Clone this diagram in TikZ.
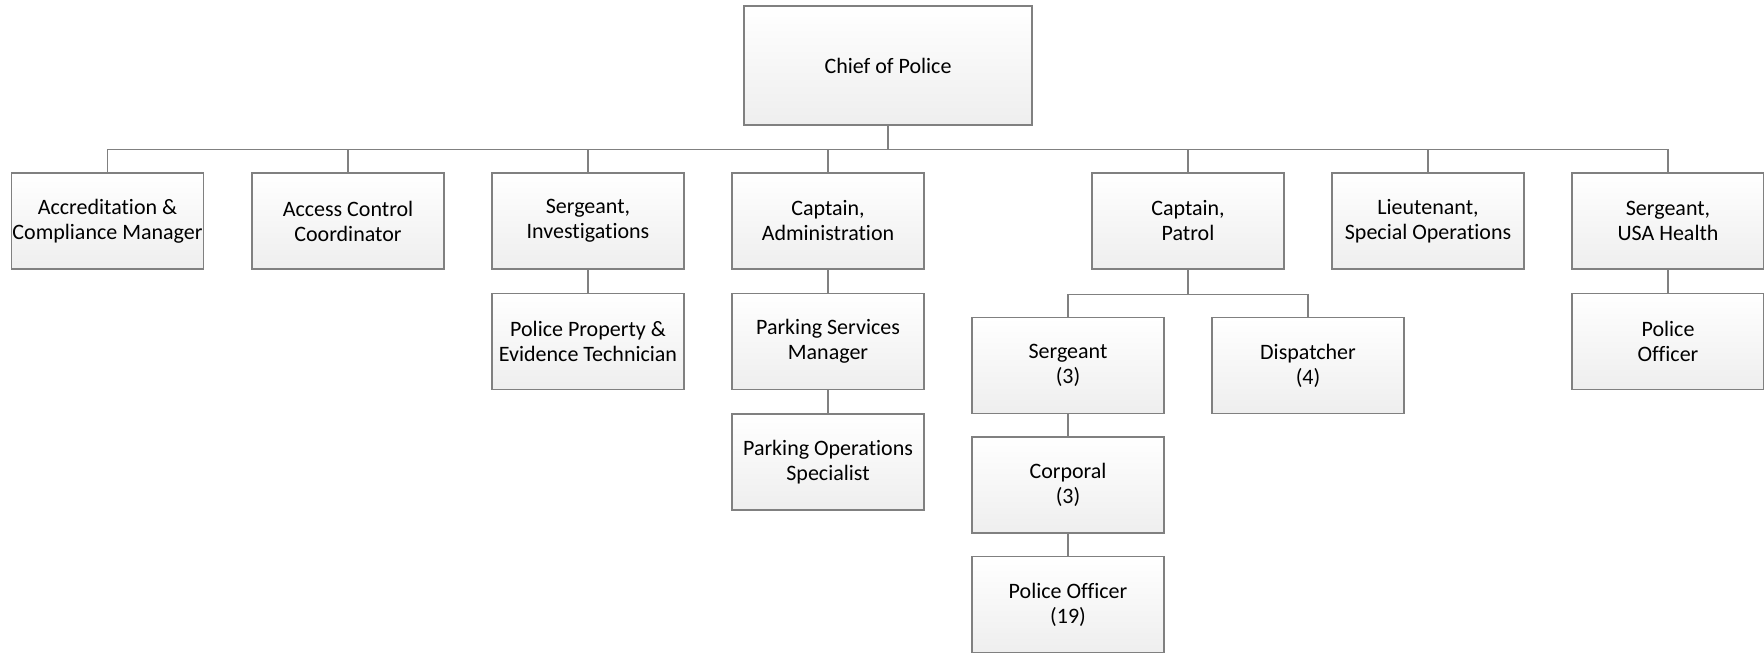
\documentclass[tikz,border=0pt]{standalone}
\usepackage{fontspec}
\setmainfont{Carlito}[Ligatures=NoCommon]
\definecolor{boxline}{RGB}{128,128,128}
\definecolor{boxfill}{RGB}{238,238,238}

\begin{document}
\begin{tikzpicture}[x=0.5pt,y=-0.5pt,
  post/.style={draw=boxline,line width=0.6pt,top color=white,bottom color=boxfill,
    minimum width=96pt,minimum height=48pt,align=center,inner xsep=0pt,inner ysep=1pt,
    font=\fontsize{11}{12.5}\selectfont},
  conn/.style={draw=boxline,line width=0.6pt}]
\useasboundingbox (0,0) rectangle (1764,654);

\node[post,minimum width=144pt,minimum height=59.5pt] (chief) at (888,65.5) {Chief of Police};

\node[post] (accr) at (107.5,221) {Accreditation \&\\Compliance Manager};
\node[post] (access) at (348,221) {Access Control\\Coordinator};
\node[post] (sgtinv) at (588,221) {Sergeant,\\Investigations};
\node[post] (captadm) at (828,221) {Captain,\\Administration};
\node[post] (captpat) at (1188,221) {Captain,\\Patrol};
\node[post] (lieut) at (1428,221) {Lieutenant,\\Special Operations};
\node[post] (sgtusa) at (1668,221) {Sergeant,\\USA Health};

\node[post] (property) at (588,341.5) {Police Property \&\\Evidence Technician};
\node[post] (parksvc) at (828,341.5) {Parking Services\\Manager};
\node[post] (parkops) at (828,462) {Parking Operations\\Specialist};
\node[post] (sgt) at (1068,365.5) {Sergeant\\(3)};
\node[post] (disp) at (1308,365.5) {Dispatcher\\(4)};
\node[post] (corp) at (1068,485) {Corporal\\(3)};
\node[post] (officer) at (1068,604.5) {Police Officer\\(19)};
\node[post] (usaofficer) at (1668,341.5) {Police\\Officer};

\foreach \n in {accr,access,sgtinv,captadm,captpat,lieut,sgtusa}
  \draw[conn] (chief.south) -- ++(0,24) -| (\n.north);
\foreach \n in {sgt,disp}
  \draw[conn] (captpat.south) -- ++(0,25) -| (\n.north);
\draw[conn] (sgtinv.south) -- (property.north);
\draw[conn] (captadm.south) -- (parksvc.north);
\draw[conn] (parksvc.south) -- (parkops.north);
\draw[conn] (sgt.south) -- (corp.north);
\draw[conn] (corp.south) -- (officer.north);
\draw[conn] (sgtusa.south) -- (usaofficer.north);
\end{tikzpicture}
\end{document}
